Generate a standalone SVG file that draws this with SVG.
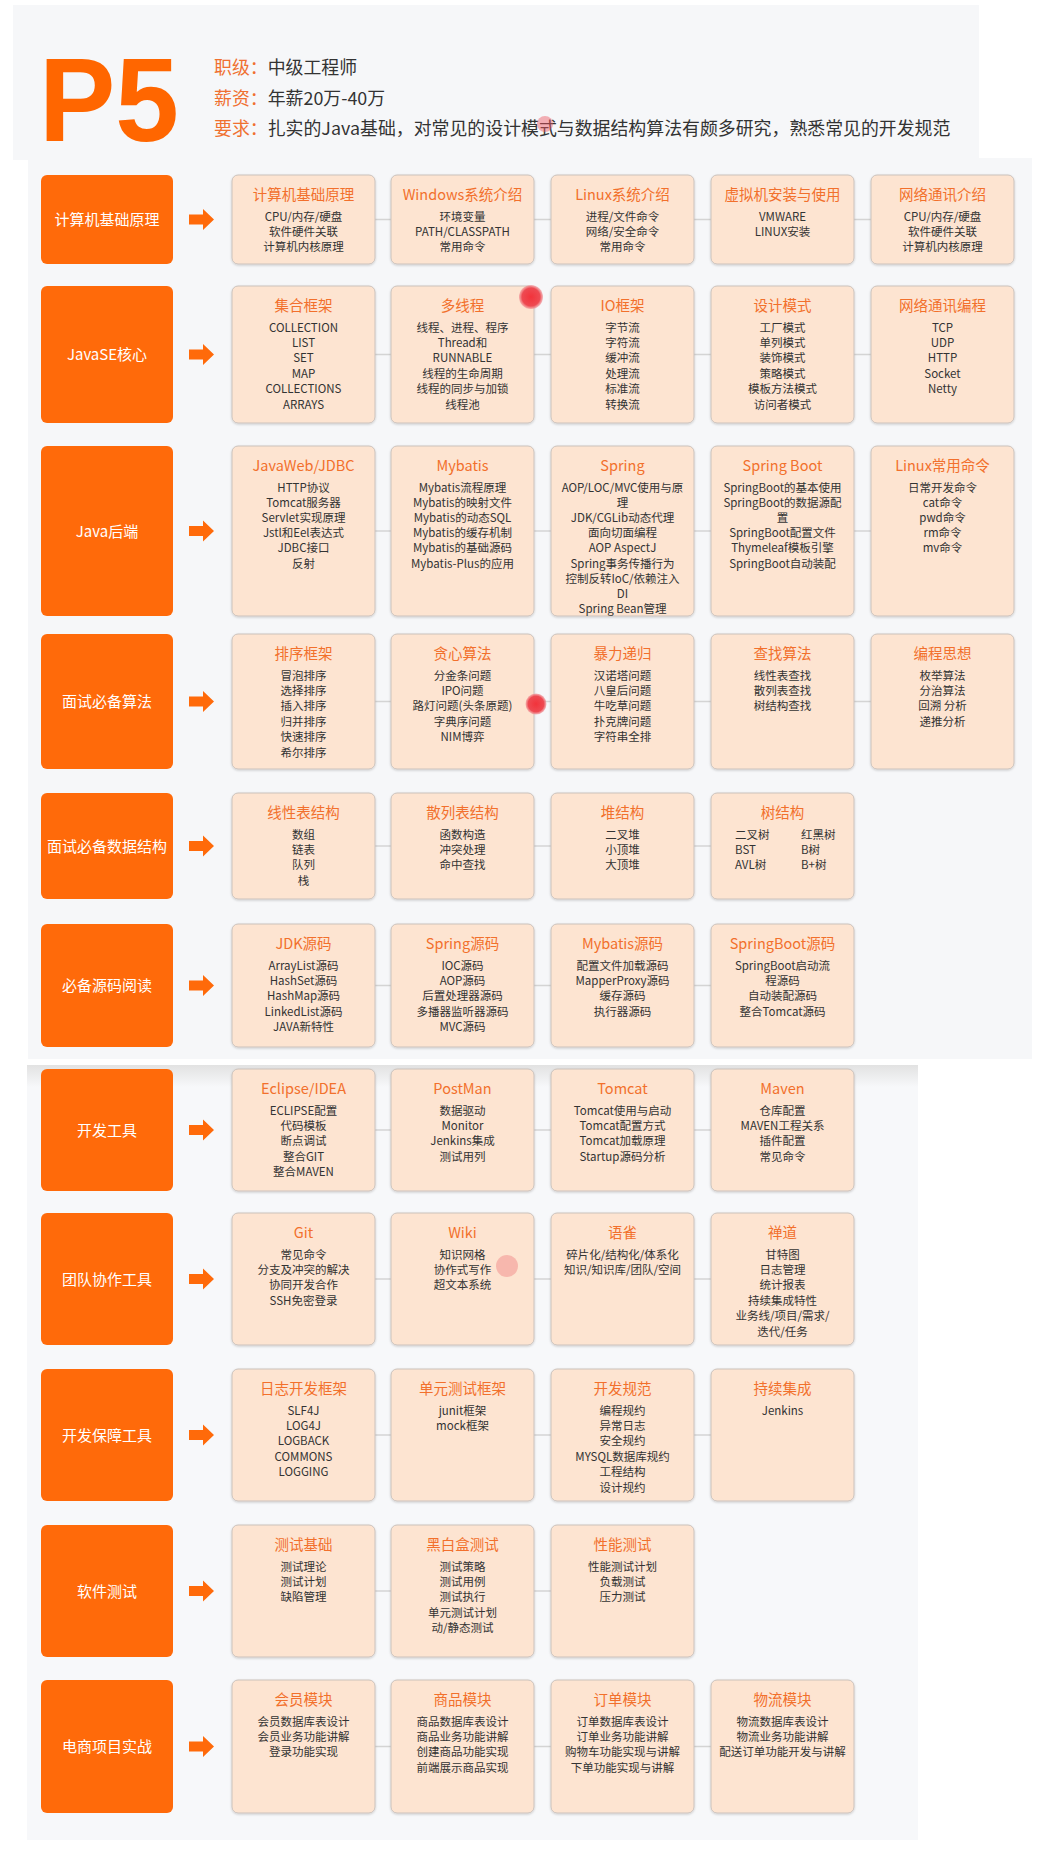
<svg xmlns="http://www.w3.org/2000/svg" width="1052" height="1849" viewBox="0 0 1052 1849">
<style>
text{font-family:"Noto Sans CJK SC","Noto Sans",sans-serif}
.lb{fill:#ff6a0a}
.lt{fill:#fff;font-size:15px;text-anchor:middle}
.card rect{fill:#fde4d1;stroke:#cbc2bc;stroke-width:1;filter:url(#sh)}
.ct{fill:#f2702c;font-size:14.5px;text-anchor:middle}
.cb{fill:#333;font-size:11.5px;text-anchor:middle}
.cl{fill:#333;font-size:11.5px}
.conn line{stroke:#d4d4d4;stroke-width:1.5}
.conn use{fill:#ff6a0a}
.hd{font-size:17.9px;fill:#333}
.ho{fill:#f07030}
</style>
<defs>
<filter id="sh" x="-10%" y="-10%" width="120%" height="125%"><feDropShadow dx="0" dy="1" stdDeviation="1" flood-color="#000" flood-opacity="0.18"/></filter>
<path id="arr" d="M0,-5H14V-10.5L25,0L14,10.5V5H0Z"/>
<linearGradient id="topband" x1="0" y1="0" x2="0" y2="1"><stop offset="0" stop-color="#e2e2e2"/><stop offset="1" stop-color="#f7f8fa"/></linearGradient>
<radialGradient id="dot"><stop offset="0" stop-color="#f2333b"/><stop offset="0.75" stop-color="#ee4a52"/><stop offset="1" stop-color="#f08a8f" stop-opacity="0.6"/></radialGradient>
</defs>
<rect width="1052" height="1849" fill="#fff"/>
<rect x="13" y="5" width="966" height="155" fill="#f6f7f9"/>
<rect x="28" y="158" width="1004" height="901" fill="#f6f7f9"/>
<rect x="27" y="1065" width="891" height="775" fill="#f7f8fa"/>
<rect x="27" y="1065" width="891" height="22" fill="url(#topband)"/>

<g id="header">
<text x="39" y="141" font-weight="bold" font-size="118" fill="#ff6600" transform="translate(39 0) scale(0.97 1) translate(-39 0)" style="font-family:'Liberation Sans',Arial,sans-serif">P5</text>
<text class="hd" x="214" y="74"><tspan class="ho">职级：</tspan>中级工程师</text>
<text class="hd" x="214" y="105"><tspan class="ho">薪资：</tspan>年薪20万-40万</text>
<text class="hd" x="214" y="135"><tspan class="ho">要求：</tspan>扎实的Java基础，对常见的设计模式与数据结构算法有颇多研究，熟悉常见的开发规范</text>
</g>

<g id="connectors" class="conn">
<line x1="303" y1="219.5" x2="942" y2="219.5"/><use href="#arr" x="189" y="219.5"/>
<line x1="303" y1="354.5" x2="942" y2="354.5"/><use href="#arr" x="189" y="354.5"/>
<line x1="303" y1="531" x2="942" y2="531"/><use href="#arr" x="189" y="531"/>
<line x1="303" y1="701.5" x2="942" y2="701.5"/><use href="#arr" x="189" y="701.5"/>
<line x1="303" y1="846" x2="782" y2="846"/><use href="#arr" x="189" y="846"/>
<line x1="303" y1="985.5" x2="782" y2="985.5"/><use href="#arr" x="189" y="985.5"/>
<line x1="303" y1="1130" x2="782" y2="1130"/><use href="#arr" x="189" y="1130"/>
<line x1="303" y1="1279" x2="782" y2="1279"/><use href="#arr" x="189" y="1279"/>
<line x1="303" y1="1435" x2="782" y2="1435"/><use href="#arr" x="189" y="1435"/>
<line x1="303" y1="1591" x2="622" y2="1591"/><use href="#arr" x="189" y="1591"/>
<line x1="303" y1="1746.5" x2="782" y2="1746.5"/><use href="#arr" x="189" y="1746.5"/>
</g>

<!-- Row 1 -->
<g id="l1"><rect class="lb" x="41" y="175" width="132" height="89" rx="6"/><text class="lt" x="107" y="225">计算机基础原理</text></g>
<g id="n1-1" class="card"><rect x="232" y="175" width="143" height="89" rx="6"/><text class="ct" x="303.5" y="199.5">计算机基础原理</text><text class="cb" x="303.5" y="220.5">CPU/内存/硬盘</text><text class="cb" x="303.5" y="235.9">软件硬件关联</text><text class="cb" x="303.5" y="251.3">计算机内核原理</text></g>
<g id="n1-2" class="card"><rect x="391" y="175" width="143" height="89" rx="6"/><text class="ct" x="462.5" y="199.5">Windows系统介绍</text><text class="cb" x="462.5" y="220.5">环境变量</text><text class="cb" x="462.5" y="235.9">PATH/CLASSPATH</text><text class="cb" x="462.5" y="251.3">常用命令</text></g>
<g id="n1-3" class="card"><rect x="551" y="175" width="143" height="89" rx="6"/><text class="ct" x="622.5" y="199.5">Linux系统介绍</text><text class="cb" x="622.5" y="220.5">进程/文件命令</text><text class="cb" x="622.5" y="235.9">网络/安全命令</text><text class="cb" x="622.5" y="251.3">常用命令</text></g>
<g id="n1-4" class="card"><rect x="711" y="175" width="143" height="89" rx="6"/><text class="ct" x="782.5" y="199.5">虚拟机安装与使用</text><text class="cb" x="782.5" y="220.5">VMWARE</text><text class="cb" x="782.5" y="235.9">LINUX安装</text></g>
<g id="n1-5" class="card"><rect x="871" y="175" width="143" height="89" rx="6"/><text class="ct" x="942.5" y="199.5">网络通讯介绍</text><text class="cb" x="942.5" y="220.5">CPU/内存/硬盘</text><text class="cb" x="942.5" y="235.9">软件硬件关联</text><text class="cb" x="942.5" y="251.3">计算机内核原理</text></g>

<!-- Row 2 -->
<g id="l2"><rect class="lb" x="41" y="286" width="132" height="137" rx="6"/><text class="lt" x="107" y="360">JavaSE核心</text></g>
<g id="n2-1" class="card"><rect x="232" y="286" width="143" height="137" rx="6"/><text class="ct" x="303.5" y="310.5">集合框架</text><text class="cb" x="303.5" y="331.5">COLLECTION</text><text class="cb" x="303.5" y="346.9">LIST</text><text class="cb" x="303.5" y="362.3">SET</text><text class="cb" x="303.5" y="377.7">MAP</text><text class="cb" x="303.5" y="393.1">COLLECTIONS</text><text class="cb" x="303.5" y="408.5">ARRAYS</text></g>
<g id="n2-2" class="card"><rect x="391" y="286" width="143" height="137" rx="6"/><text class="ct" x="462.5" y="310.5">多线程</text><text class="cb" x="462.5" y="331.5">线程、进程、程序</text><text class="cb" x="462.5" y="346.9">Thread和</text><text class="cb" x="462.5" y="362.3">RUNNABLE</text><text class="cb" x="462.5" y="377.7">线程的生命周期</text><text class="cb" x="462.5" y="393.1">线程的同步与加锁</text><text class="cb" x="462.5" y="408.5">线程池</text></g>
<g id="n2-3" class="card"><rect x="551" y="286" width="143" height="137" rx="6"/><text class="ct" x="622.5" y="310.5">IO框架</text><text class="cb" x="622.5" y="331.5">字节流</text><text class="cb" x="622.5" y="346.9">字符流</text><text class="cb" x="622.5" y="362.3">缓冲流</text><text class="cb" x="622.5" y="377.7">处理流</text><text class="cb" x="622.5" y="393.1">标准流</text><text class="cb" x="622.5" y="408.5">转换流</text></g>
<g id="n2-4" class="card"><rect x="711" y="286" width="143" height="137" rx="6"/><text class="ct" x="782.5" y="310.5">设计模式</text><text class="cb" x="782.5" y="331.5">工厂模式</text><text class="cb" x="782.5" y="346.9">单列模式</text><text class="cb" x="782.5" y="362.3">装饰模式</text><text class="cb" x="782.5" y="377.7">策略模式</text><text class="cb" x="782.5" y="393.1">模板方法模式</text><text class="cb" x="782.5" y="408.5">访问者模式</text></g>
<g id="n2-5" class="card"><rect x="871" y="286" width="143" height="137" rx="6"/><text class="ct" x="942.5" y="310.5">网络通讯编程</text><text class="cb" x="942.5" y="331.5">TCP</text><text class="cb" x="942.5" y="346.9">UDP</text><text class="cb" x="942.5" y="362.3">HTTP</text><text class="cb" x="942.5" y="377.7">Socket</text><text class="cb" x="942.5" y="393.1">Netty</text></g>

<!-- Row 3 -->
<g id="l3"><rect class="lb" x="41" y="446" width="132" height="170" rx="6"/><text class="lt" x="107" y="536.5">Java后端</text></g>
<g id="n3-1" class="card"><rect x="232" y="446" width="143" height="170" rx="6"/><text class="ct" x="303.5" y="470.5">JavaWeb/JDBC</text><text class="cb" x="303.5" y="491.5">HTTP协议</text><text class="cb" x="303.5" y="506.7">Tomcat服务器</text><text class="cb" x="303.5" y="521.9">Servlet实现原理</text><text class="cb" x="303.5" y="537.1">Jstl和Eel表达式</text><text class="cb" x="303.5" y="552.3">JDBC接口</text><text class="cb" x="303.5" y="567.5">反射</text></g>
<g id="n3-2" class="card"><rect x="391" y="446" width="143" height="170" rx="6"/><text class="ct" x="462.5" y="470.5">Mybatis</text><text class="cb" x="462.5" y="491.5">Mybatis流程原理</text><text class="cb" x="462.5" y="506.7">Mybatis的映射文件</text><text class="cb" x="462.5" y="521.9">Mybatis的动态SQL</text><text class="cb" x="462.5" y="537.1">Mybatis的缓存机制</text><text class="cb" x="462.5" y="552.3">Mybatis的基础源码</text><text class="cb" x="462.5" y="567.5">Mybatis-Plus的应用</text></g>
<g id="n3-3" class="card"><rect x="551" y="446" width="143" height="170" rx="6"/><text class="ct" x="622.5" y="470.5">Spring</text><text class="cb" x="622.5" y="491.5">AOP/LOC/MVC使用与原</text><text class="cb" x="622.5" y="506.7">理</text><text class="cb" x="622.5" y="521.9">JDK/CGLib动态代理</text><text class="cb" x="622.5" y="537.1">面向切面编程</text><text class="cb" x="622.5" y="552.3">AOP AspectJ</text><text class="cb" x="622.5" y="567.5">Spring事务传播行为</text><text class="cb" x="622.5" y="582.7">控制反转IoC/依赖注入</text><text class="cb" x="622.5" y="597.9">DI</text><text class="cb" x="622.5" y="613.1">Spring Bean管理</text></g>
<g id="n3-4" class="card"><rect x="711" y="446" width="143" height="170" rx="6"/><text class="ct" x="782.5" y="470.5">Spring Boot</text><text class="cb" x="782.5" y="491.5">SpringBoot的基本使用</text><text class="cb" x="782.5" y="506.7">SpringBoot的数据源配</text><text class="cb" x="782.5" y="521.9">置</text><text class="cb" x="782.5" y="537.1">SpringBoot配置文件</text><text class="cb" x="782.5" y="552.3">Thymeleaf模板引擎</text><text class="cb" x="782.5" y="567.5">SpringBoot自动装配</text></g>
<g id="n3-5" class="card"><rect x="871" y="446" width="143" height="170" rx="6"/><text class="ct" x="942.5" y="470.5">Linux常用命令</text><text class="cb" x="942.5" y="491.5">日常开发命令</text><text class="cb" x="942.5" y="506.7">cat命令</text><text class="cb" x="942.5" y="521.9">pwd命令</text><text class="cb" x="942.5" y="537.1">rm命令</text><text class="cb" x="942.5" y="552.3">mv命令</text></g>

<!-- Row 4 -->
<g id="l4"><rect class="lb" x="41" y="634" width="132" height="135" rx="6"/><text class="lt" x="107" y="707">面试必备算法</text></g>
<g id="n4-1" class="card"><rect x="232" y="634" width="143" height="135" rx="6"/><text class="ct" x="303.5" y="658.5">排序框架</text><text class="cb" x="303.5" y="679.5">冒泡排序</text><text class="cb" x="303.5" y="694.9">选择排序</text><text class="cb" x="303.5" y="710.3">插入排序</text><text class="cb" x="303.5" y="725.7">归并排序</text><text class="cb" x="303.5" y="741.1">快速排序</text><text class="cb" x="303.5" y="756.5">希尔排序</text></g>
<g id="n4-2" class="card"><rect x="391" y="634" width="143" height="135" rx="6"/><text class="ct" x="462.5" y="658.5">贪心算法</text><text class="cb" x="462.5" y="679.5">分金条问题</text><text class="cb" x="462.5" y="694.9">IPO问题</text><text class="cb" x="462.5" y="710.3">路灯问题(头条原题)</text><text class="cb" x="462.5" y="725.7">字典序问题</text><text class="cb" x="462.5" y="741.1">NIM博弈</text></g>
<g id="n4-3" class="card"><rect x="551" y="634" width="143" height="135" rx="6"/><text class="ct" x="622.5" y="658.5">暴力递归</text><text class="cb" x="622.5" y="679.5">汉诺塔问题</text><text class="cb" x="622.5" y="694.9">八皇后问题</text><text class="cb" x="622.5" y="710.3">牛吃草问题</text><text class="cb" x="622.5" y="725.7">扑克牌问题</text><text class="cb" x="622.5" y="741.1">字符串全排</text></g>
<g id="n4-4" class="card"><rect x="711" y="634" width="143" height="135" rx="6"/><text class="ct" x="782.5" y="658.5">查找算法</text><text class="cb" x="782.5" y="679.5">线性表查找</text><text class="cb" x="782.5" y="694.9">散列表查找</text><text class="cb" x="782.5" y="710.3">树结构查找</text></g>
<g id="n4-5" class="card"><rect x="871" y="634" width="143" height="135" rx="6"/><text class="ct" x="942.5" y="658.5">编程思想</text><text class="cb" x="942.5" y="679.5">枚举算法</text><text class="cb" x="942.5" y="694.9">分治算法</text><text class="cb" x="942.5" y="710.3">回溯 分析</text><text class="cb" x="942.5" y="725.7">递推分析</text></g>

<!-- Row 5 -->
<g id="l5"><rect class="lb" x="41" y="793" width="132" height="106" rx="6"/><text class="lt" x="107" y="851.5">面试必备数据结构</text></g>
<g id="n5-1" class="card"><rect x="232" y="793" width="143" height="106" rx="6"/><text class="ct" x="303.5" y="817.5">线性表结构</text><text class="cb" x="303.5" y="838.5">数组</text><text class="cb" x="303.5" y="853.9">链表</text><text class="cb" x="303.5" y="869.3">队列</text><text class="cb" x="303.5" y="884.7">栈</text></g>
<g id="n5-2" class="card"><rect x="391" y="793" width="143" height="106" rx="6"/><text class="ct" x="462.5" y="817.5">散列表结构</text><text class="cb" x="462.5" y="838.5">函数构造</text><text class="cb" x="462.5" y="853.9">冲突处理</text><text class="cb" x="462.5" y="869.3">命中查找</text></g>
<g id="n5-3" class="card"><rect x="551" y="793" width="143" height="106" rx="6"/><text class="ct" x="622.5" y="817.5">堆结构</text><text class="cb" x="622.5" y="838.5">二叉堆</text><text class="cb" x="622.5" y="853.9">小顶堆</text><text class="cb" x="622.5" y="869.3">大顶堆</text></g>
<g id="n5-4" class="card"><rect x="711" y="793" width="143" height="106" rx="6"/><text class="ct" x="782.5" y="817.5">树结构</text><text class="cl" x="735" y="838.5">二叉树</text><text class="cl" x="801" y="838.5">红黑树</text><text class="cl" x="735" y="853.9">BST</text><text class="cl" x="801" y="853.9">B树</text><text class="cl" x="735" y="869.3">AVL树</text><text class="cl" x="801" y="869.3">B+树</text></g>

<!-- Row 6 -->
<g id="l6"><rect class="lb" x="41" y="924" width="132" height="123" rx="6"/><text class="lt" x="107" y="991">必备源码阅读</text></g>
<g id="n6-1" class="card"><rect x="232" y="924" width="143" height="123" rx="6"/><text class="ct" x="303.5" y="948.5">JDK源码</text><text class="cb" x="303.5" y="969.5">ArrayList源码</text><text class="cb" x="303.5" y="984.9">HashSet源码</text><text class="cb" x="303.5" y="1000.3">HashMap源码</text><text class="cb" x="303.5" y="1015.7">LinkedList源码</text><text class="cb" x="303.5" y="1031.1">JAVA新特性</text></g>
<g id="n6-2" class="card"><rect x="391" y="924" width="143" height="123" rx="6"/><text class="ct" x="462.5" y="948.5">Spring源码</text><text class="cb" x="462.5" y="969.5">IOC源码</text><text class="cb" x="462.5" y="984.9">AOP源码</text><text class="cb" x="462.5" y="1000.3">后置处理器源码</text><text class="cb" x="462.5" y="1015.7">多播器监听器源码</text><text class="cb" x="462.5" y="1031.1">MVC源码</text></g>
<g id="n6-3" class="card"><rect x="551" y="924" width="143" height="123" rx="6"/><text class="ct" x="622.5" y="948.5">Mybatis源码</text><text class="cb" x="622.5" y="969.5">配置文件加载源码</text><text class="cb" x="622.5" y="984.9">MapperProxy源码</text><text class="cb" x="622.5" y="1000.3">缓存源码</text><text class="cb" x="622.5" y="1015.7">执行器源码</text></g>
<g id="n6-4" class="card"><rect x="711" y="924" width="143" height="123" rx="6"/><text class="ct" x="782.5" y="948.5">SpringBoot源码</text><text class="cb" x="782.5" y="969.5">SpringBoot启动流</text><text class="cb" x="782.5" y="984.9">程源码</text><text class="cb" x="782.5" y="1000.3">自动装配源码</text><text class="cb" x="782.5" y="1015.7">整合Tomcat源码</text></g>

<!-- Row 7 -->
<g id="l7"><rect class="lb" x="41" y="1069" width="132" height="122" rx="6"/><text class="lt" x="107" y="1135.5">开发工具</text></g>
<g id="n7-1" class="card"><rect x="232" y="1069" width="143" height="122" rx="6"/><text class="ct" x="303.5" y="1093.5">Eclipse/IDEA</text><text class="cb" x="303.5" y="1114.5">ECLIPSE配置</text><text class="cb" x="303.5" y="1129.9">代码模板</text><text class="cb" x="303.5" y="1145.3">断点调试</text><text class="cb" x="303.5" y="1160.7">整合GIT</text><text class="cb" x="303.5" y="1176.1">整合MAVEN</text></g>
<g id="n7-2" class="card"><rect x="391" y="1069" width="143" height="122" rx="6"/><text class="ct" x="462.5" y="1093.5">PostMan</text><text class="cb" x="462.5" y="1114.5">数据驱动</text><text class="cb" x="462.5" y="1129.9">Monitor</text><text class="cb" x="462.5" y="1145.3">Jenkins集成</text><text class="cb" x="462.5" y="1160.7">测试用列</text></g>
<g id="n7-3" class="card"><rect x="551" y="1069" width="143" height="122" rx="6"/><text class="ct" x="622.5" y="1093.5">Tomcat</text><text class="cb" x="622.5" y="1114.5">Tomcat使用与启动</text><text class="cb" x="622.5" y="1129.9">Tomcat配置方式</text><text class="cb" x="622.5" y="1145.3">Tomcat加载原理</text><text class="cb" x="622.5" y="1160.7">Startup源码分析</text></g>
<g id="n7-4" class="card"><rect x="711" y="1069" width="143" height="122" rx="6"/><text class="ct" x="782.5" y="1093.5">Maven</text><text class="cb" x="782.5" y="1114.5">仓库配置</text><text class="cb" x="782.5" y="1129.9">MAVEN工程关系</text><text class="cb" x="782.5" y="1145.3">插件配置</text><text class="cb" x="782.5" y="1160.7">常见命令</text></g>

<!-- Row 8 -->
<g id="l8"><rect class="lb" x="41" y="1213" width="132" height="132" rx="6"/><text class="lt" x="107" y="1284.5">团队协作工具</text></g>
<g id="n8-1" class="card"><rect x="232" y="1213" width="143" height="132" rx="6"/><text class="ct" x="303.5" y="1237.5">Git</text><text class="cb" x="303.5" y="1258.5">常见命令</text><text class="cb" x="303.5" y="1273.9">分支及冲突的解决</text><text class="cb" x="303.5" y="1289.3">协同开发合作</text><text class="cb" x="303.5" y="1304.7">SSH免密登录</text></g>
<g id="n8-2" class="card"><rect x="391" y="1213" width="143" height="132" rx="6"/><text class="ct" x="462.5" y="1237.5">Wiki</text><text class="cb" x="462.5" y="1258.5">知识网格</text><text class="cb" x="462.5" y="1273.9">协作式写作</text><text class="cb" x="462.5" y="1289.3">超文本系统</text></g>
<g id="n8-3" class="card"><rect x="551" y="1213" width="143" height="132" rx="6"/><text class="ct" x="622.5" y="1237.5">语雀</text><text class="cb" x="622.5" y="1258.5">碎片化/结构化/体系化</text><text class="cb" x="622.5" y="1273.9">知识/知识库/团队/空间</text></g>
<g id="n8-4" class="card"><rect x="711" y="1213" width="143" height="132" rx="6"/><text class="ct" x="782.5" y="1237.5">禅道</text><text class="cb" x="782.5" y="1258.5">甘特图</text><text class="cb" x="782.5" y="1273.9">日志管理</text><text class="cb" x="782.5" y="1289.3">统计报表</text><text class="cb" x="782.5" y="1304.7">持续集成特性</text><text class="cb" x="782.5" y="1320.1">业务线/项目/需求/</text><text class="cb" x="782.5" y="1335.5">迭代/任务</text></g>

<!-- Row 9 -->
<g id="l9"><rect class="lb" x="41" y="1369" width="132" height="132" rx="6"/><text class="lt" x="107" y="1440.5">开发保障工具</text></g>
<g id="n9-1" class="card"><rect x="232" y="1369" width="143" height="132" rx="6"/><text class="ct" x="303.5" y="1393.5">日志开发框架</text><text class="cb" x="303.5" y="1414.5">SLF4J</text><text class="cb" x="303.5" y="1429.9">LOG4J</text><text class="cb" x="303.5" y="1445.3">LOGBACK</text><text class="cb" x="303.5" y="1460.7">COMMONS</text><text class="cb" x="303.5" y="1476.1">LOGGING</text></g>
<g id="n9-2" class="card"><rect x="391" y="1369" width="143" height="132" rx="6"/><text class="ct" x="462.5" y="1393.5">单元测试框架</text><text class="cb" x="462.5" y="1414.5">junit框架</text><text class="cb" x="462.5" y="1429.9">mock框架</text></g>
<g id="n9-3" class="card"><rect x="551" y="1369" width="143" height="132" rx="6"/><text class="ct" x="622.5" y="1393.5">开发规范</text><text class="cb" x="622.5" y="1414.5">编程规约</text><text class="cb" x="622.5" y="1429.9">异常日志</text><text class="cb" x="622.5" y="1445.3">安全规约</text><text class="cb" x="622.5" y="1460.7">MYSQL数据库规约</text><text class="cb" x="622.5" y="1476.1">工程结构</text><text class="cb" x="622.5" y="1491.5">设计规约</text></g>
<g id="n9-4" class="card"><rect x="711" y="1369" width="143" height="132" rx="6"/><text class="ct" x="782.5" y="1393.5">持续集成</text><text class="cb" x="782.5" y="1414.5">Jenkins</text></g>

<!-- Row 10 -->
<g id="l10"><rect class="lb" x="41" y="1525" width="132" height="132" rx="6"/><text class="lt" x="107" y="1596.5">软件测试</text></g>
<g id="n10-1" class="card"><rect x="232" y="1525" width="143" height="132" rx="6"/><text class="ct" x="303.5" y="1549.5">测试基础</text><text class="cb" x="303.5" y="1570.5">测试理论</text><text class="cb" x="303.5" y="1585.9">测试计划</text><text class="cb" x="303.5" y="1601.3">缺陷管理</text></g>
<g id="n10-2" class="card"><rect x="391" y="1525" width="143" height="132" rx="6"/><text class="ct" x="462.5" y="1549.5">黑白盒测试</text><text class="cb" x="462.5" y="1570.5">测试策略</text><text class="cb" x="462.5" y="1585.9">测试用例</text><text class="cb" x="462.5" y="1601.3">测试执行</text><text class="cb" x="462.5" y="1616.7">单元测试计划</text><text class="cb" x="462.5" y="1632.1">动/静态测试</text></g>
<g id="n10-3" class="card"><rect x="551" y="1525" width="143" height="132" rx="6"/><text class="ct" x="622.5" y="1549.5">性能测试</text><text class="cb" x="622.5" y="1570.5">性能测试计划</text><text class="cb" x="622.5" y="1585.9">负载测试</text><text class="cb" x="622.5" y="1601.3">压力测试</text></g>

<!-- Row 11 -->
<g id="l11"><rect class="lb" x="41" y="1680" width="132" height="133" rx="6"/><text class="lt" x="107" y="1752">电商项目实战</text></g>
<g id="n11-1" class="card"><rect x="232" y="1680" width="143" height="133" rx="6"/><text class="ct" x="303.5" y="1704.5">会员模块</text><text class="cb" x="303.5" y="1725.5">会员数据库表设计</text><text class="cb" x="303.5" y="1740.9">会员业务功能讲解</text><text class="cb" x="303.5" y="1756.3">登录功能实现</text></g>
<g id="n11-2" class="card"><rect x="391" y="1680" width="143" height="133" rx="6"/><text class="ct" x="462.5" y="1704.5">商品模块</text><text class="cb" x="462.5" y="1725.5">商品数据库表设计</text><text class="cb" x="462.5" y="1740.9">商品业务功能讲解</text><text class="cb" x="462.5" y="1756.3">创建商品功能实现</text><text class="cb" x="462.5" y="1771.7">前端展示商品实现</text></g>
<g id="n11-3" class="card"><rect x="551" y="1680" width="143" height="133" rx="6"/><text class="ct" x="622.5" y="1704.5">订单模块</text><text class="cb" x="622.5" y="1725.5">订单数据库表设计</text><text class="cb" x="622.5" y="1740.9">订单业务功能讲解</text><text class="cb" x="622.5" y="1756.3">购物车功能实现与讲解</text><text class="cb" x="622.5" y="1771.7">下单功能实现与讲解</text></g>
<g id="n11-4" class="card"><rect x="711" y="1680" width="143" height="133" rx="6"/><text class="ct" x="782.5" y="1704.5">物流模块</text><text class="cb" x="782.5" y="1725.5">物流数据库表设计</text><text class="cb" x="782.5" y="1740.9">物流业务功能讲解</text><text class="cb" x="782.5" y="1756.3">配送订单功能开发与讲解</text></g>

<g id="pointer-marks">
<circle cx="531" cy="297" r="12" fill="url(#dot)"/>
<circle cx="536" cy="704" r="10.5" fill="url(#dot)"/>
<circle cx="545" cy="124" r="8" fill="#ee5560" opacity="0.45"/>
<circle cx="507" cy="1266" r="11" fill="#f08080" opacity="0.45"/>
</g>
</svg>
